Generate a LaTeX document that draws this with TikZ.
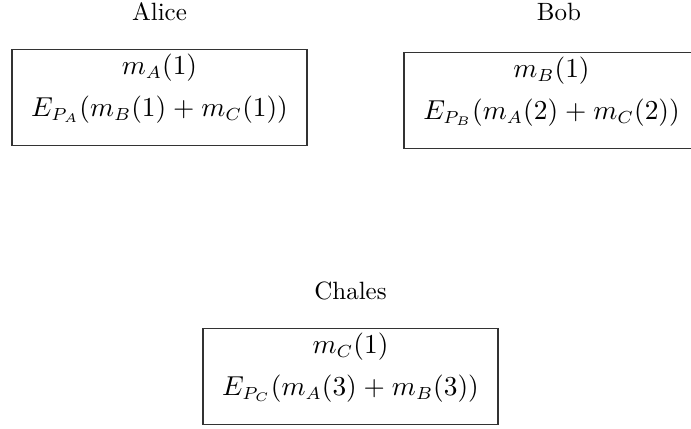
\documentclass[tikz,border=0pt]{standalone}
\usepackage{tikz}
\usetikzlibrary{positioning}
\tikzset{
  party/.style={draw=black!80, semithick, align=center, text width=114pt, inner sep=2pt, text height=8pt, text depth=26.4pt, font=\fontsize{10.5pt}{12.6pt}\selectfont},
  who/.style={label distance=7.5pt, font=\fontsize{10pt}{12pt}\selectfont},
}
\begin{document}
\begin{tikzpicture}[x=0.4pt,y=0.4pt]
      \useasboundingbox (0,0) rectangle (691,428);
      \node[party, label={[who]above:Alice}] (alice) at (159.5,330.5) {$m_A(1)$\\[4pt] $E_{P_A}(m_B(1)+m_C(1))$};
      \node[party, label={[who, xshift=3pt, yshift=1.5pt]above:Bob}] (bob) at (551.5,327.5) {$m_B(1)$\\[4pt] $E_{P_B}(m_A(2)+m_C(2))$};
      \node[party, label={[who]above:Chales}] (chales) at (350.5,51.5) {$m_C(1)$\\[4pt] $E_{P_C}(m_A(3)+m_B(3))$};
    \end{tikzpicture}
\end{document}
